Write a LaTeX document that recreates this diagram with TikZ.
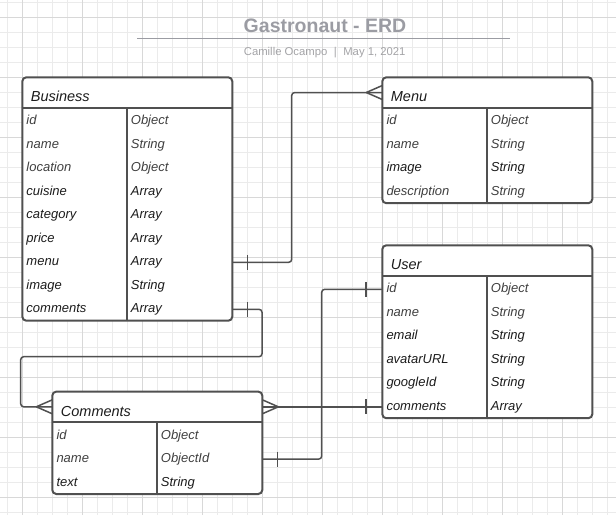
\documentclass[tikz,border=0pt]{standalone}
\usepackage{fontspec}
\setmainfont{Liberation Sans}
\definecolor{gridmin}{HTML}{EBEBEB}
\definecolor{gridmaj}{HTML}{D8D8D8}
\definecolor{edge}{HTML}{505050}
\definecolor{lt}{HTML}{404040}
\definecolor{dk}{HTML}{1C1C1C}
\definecolor{ttl}{HTML}{9B9CA3}
\definecolor{sub}{HTML}{A3A3A6}
\begin{document}
\begin{tikzpicture}[x=1pt, y=-1pt,
  minorline/.style={draw=gridmin, line width=.7pt},
  majorline/.style={draw=gridmaj, line width=.8pt},
  tbl/.style={draw=edge, line width=2pt, fill=white, rounded corners=4pt, minimum width=210pt, inner sep=0pt, outer sep=0pt, anchor=north west},
  head/.style={font=\fontsize{14.5}{16}\selectfont\itshape, text=dk, inner sep=0pt, anchor=base west},
  field/.style={font=\fontsize{13}{15}\selectfont\itshape, inner sep=0pt, text height=9.4pt, text depth=2.6pt, anchor=west},
  rule/.style={draw=edge, line width=2pt},
  link/.style={draw=edge, line width=1.5pt, rounded corners=3pt}]
\useasboundingbox (0,0) rectangle (616,515);
% grid
\foreach \x in {7.3,22.3,...,607.3}{\draw[minorline] (\x,0) -- (\x,515);}
\foreach \y in {2.3,17.3,...,512.3}{\draw[minorline] (0,\y) -- (616,\y);}
\foreach \x in {22.3,82.3,...,562.3}{\draw[majorline] (\x,0) -- (\x,515);}
\foreach \y in {17.3,77.3,...,497.3}{\draw[majorline] (0,\y) -- (616,\y);}
% title
\node[font=\fontsize{19.5}{22}\selectfont\bfseries, text=ttl, anchor=base, inner sep=0pt] (title) at (325,32.3) {Gastronaut - ERD};
\draw[draw=ttl, line width=1.2pt] (137,38.3) -- (510,38.3);
\node[font=\fontsize{11.3}{13}\selectfont, text=sub, anchor=base, inner sep=0pt] (subtitle) at (324.7,55) {Camille Ocampo\hspace{6.5pt}|\hspace{6.5pt}May 1, 2021};
% Business
\node[tbl, minimum height=243.4pt] (business) at (22.3,77.3) {};
\draw[rule] ([yshift=-30.4pt]business.north west) -- ([yshift=-30.4pt]business.north east);
\draw[rule] ([shift={(104.2,30.4)}]business.north west) -- ([xshift=104.2pt]business.south west);
\node[head] (business-title) at ([shift={(8.4,24.4)}]business.north west) {Business};
\coordinate (business-h) at ([yshift=-15.2pt]business.north west);
\foreach \f/\t/\c [count=\i] in {id/Object/lt, name/String/lt, location/Object/lt, cuisine/Array/dk, category/Array/dk, price/Array/dk, menu/Array/dk, image/String/dk, comments/Array/dk}{
  \node[field, text=\c] (business-f\i) at ([shift={(4,{44+(\i-1)*23.5})}]business.north west) {\f};
  \node[field, text=\c] (business-t\i) at ([shift={(108.4,{44+(\i-1)*23.5})}]business.north west) {\t};
}
% Menu
\node[tbl, minimum height=125.9pt] (menu) at (382.3,77.3) {};
\draw[rule] ([yshift=-30.4pt]menu.north west) -- ([yshift=-30.4pt]menu.north east);
\draw[rule] ([shift={(104.2,30.4)}]menu.north west) -- ([xshift=104.2pt]menu.south west);
\node[head] (menu-title) at ([shift={(8.4,24.4)}]menu.north west) {Menu};
\coordinate (menu-h) at ([yshift=-15.2pt]menu.north west);
\foreach \f/\t/\c [count=\i] in {id/Object/lt, name/String/lt, image/String/dk, description/String/lt}{
  \node[field, text=\c] (menu-f\i) at ([shift={(4,{44+(\i-1)*23.5})}]menu.north west) {\f};
  \node[field, text=\c] (menu-t\i) at ([shift={(108.4,{44+(\i-1)*23.5})}]menu.north west) {\t};
}
% User
\node[tbl, minimum height=172.9pt] (user) at (382.3,245.3) {};
\draw[rule] ([yshift=-30.4pt]user.north west) -- ([yshift=-30.4pt]user.north east);
\draw[rule] ([shift={(104.2,30.4)}]user.north west) -- ([xshift=104.2pt]user.south west);
\node[head] (user-title) at ([shift={(8.4,24.4)}]user.north west) {User};
\coordinate (user-h) at ([yshift=-15.2pt]user.north west);
\foreach \f/\t/\c [count=\i] in {id/Object/lt, name/String/lt, email/String/dk, avatarURL/String/dk, googleId/String/dk, comments/Array/dk}{
  \node[field, text=\c] (user-f\i) at ([shift={(4,{44+(\i-1)*23.5})}]user.north west) {\f};
  \node[field, text=\c] (user-t\i) at ([shift={(108.4,{44+(\i-1)*23.5})}]user.north west) {\t};
}
% Comments
\node[tbl, minimum height=102.4pt] (comments) at (52.3,391.6) {};
\draw[rule] ([yshift=-30.4pt]comments.north west) -- ([yshift=-30.4pt]comments.north east);
\draw[rule] ([shift={(104.2,30.4)}]comments.north west) -- ([xshift=104.2pt]comments.south west);
\node[head] (comments-title) at ([shift={(8.4,24.4)}]comments.north west) {Comments};
\coordinate (comments-h) at ([yshift=-15.2pt]comments.north west);
\foreach \f/\t/\c [count=\i] in {id/Object/lt, name/ObjectId/lt, text/String/dk}{
  \node[field, text=\c] (comments-f\i) at ([shift={(4,{44+(\i-1)*23.5})}]comments.north west) {\f};
  \node[field, text=\c] (comments-t\i) at ([shift={(108.4,{44+(\i-1)*23.5})}]comments.north west) {\t};
}
% connectors
\draw[link] (business.east |- business-f7) -- ++(59.4,0) |- (menu.west |- menu-h);
\draw[link] (business.east |- business-f9) -- ++(29.7,0) -- ++(0,47.4) -- ++(-241.3,0) |- (comments.west |- comments-h);
\draw[link] (comments.east |- comments-h) -- (user.west |- user-f6);
\draw[link] (comments.east |- comments-f2) -- ++(59.4,0) |- (user.west |- user-f1);
% one marks
\draw[link] (business.east |- business-f7) ++(15.4,-7.5) -- ++(0,15);
\draw[link] (business.east |- business-f9) ++(15.4,-7.5) -- ++(0,15);
\draw[link] (comments.east |- comments-f2) ++(15.4,-7.5) -- ++(0,15);
\draw[link] (user.west |- user-f1) ++(-16.3,-7.5) -- ++(0,15);
\draw[link] (user.west |- user-f6) ++(-16.3,-7.5) -- ++(0,15);
% many marks
\draw[link] (menu.west |- menu-h) ++(-16,0) -- ++(16,-7) ++(-16,7) -- ++(16,7);
\draw[link] (comments.west |- comments-h) ++(-16,0) -- ++(16,-7) ++(-16,7) -- ++(16,7);
\draw[link] (comments.east |- comments-h) ++(16,0) -- ++(-16,-7) ++(16,7) -- ++(-16,7);
\end{tikzpicture}
\end{document}
